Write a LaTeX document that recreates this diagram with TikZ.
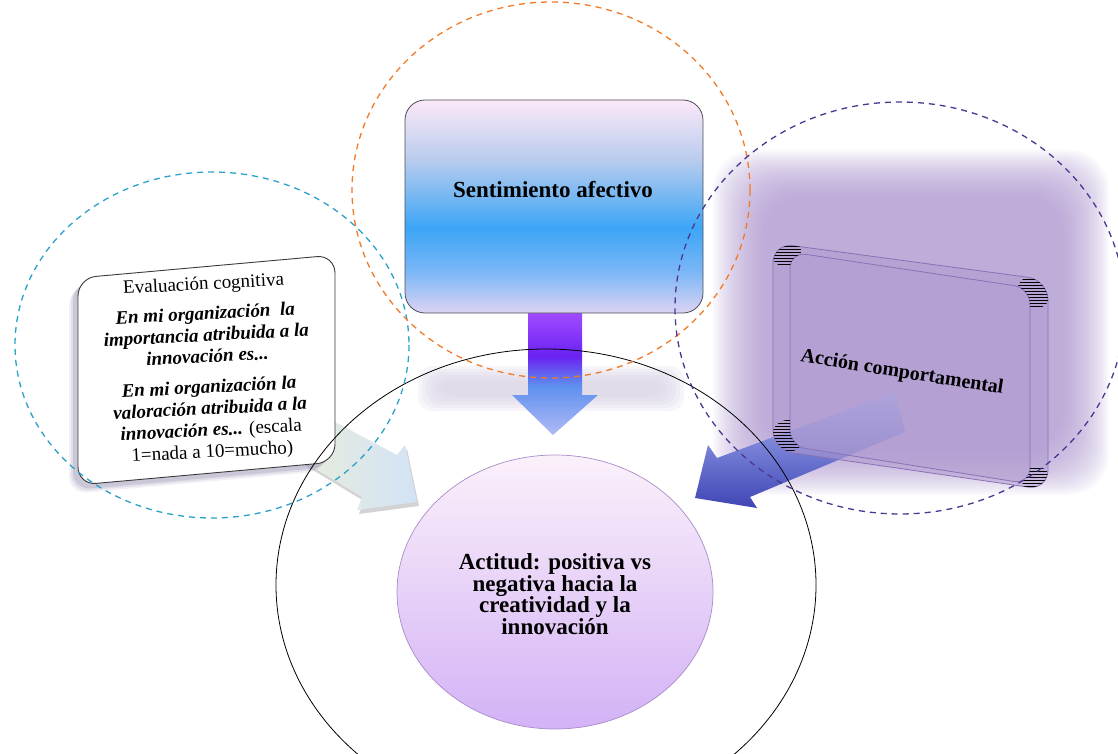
\documentclass[tikz,border=0pt]{standalone}
\usepackage{fontspec}
\setmainfont{Liberation Serif}
\usetikzlibrary{patterns}

% palette
\definecolor{hazecol}{HTML}{A890CC}
\definecolor{bandcol}{HTML}{D6CFE3}
\definecolor{ringblue}{HTML}{2AA2C9}
\definecolor{ringorange}{HTML}{F27A26}
\definecolor{ringpurple}{HTML}{4A3791}
\definecolor{boxedge}{HTML}{8A70B6}
\definecolor{boxface}{HTML}{B19CD0}
\definecolor{rarrtop}{HTML}{A9B6F4}
\definecolor{rarrbot}{HTML}{3F45B4}
\definecolor{larrL}{HTML}{EFEFD6}
\definecolor{larrR}{HTML}{D2E3F5}
\definecolor{attop}{HTML}{FBF1FA}
\definecolor{atbot}{HTML}{D3B2F6}
\definecolor{atedge}{HTML}{A88BCB}
\definecolor{shadowcol}{HTML}{8F84AA}
\definecolor{boxline}{HTML}{3A3A3A}
\definecolor{topline}{HTML}{4E4E58}
% colours of the affect box
\definecolor{afbot}{HTML}{DCD3F3}
\definecolor{afmid}{HTML}{78B6F6}
\definecolor{afblue}{HTML}{3CA5F6}
\definecolor{afpale}{HTML}{B9CCEE}
\definecolor{aftop}{HTML}{FCE8F8}
% colours of the downward arrow
\definecolor{dntop}{HTML}{A24CFF}
\definecolor{dndeep}{HTML}{6A22F2}
\definecolor{dnblue}{HTML}{5E90EF}
\definecolor{dnbot}{HTML}{B2BAF6}

\pgfdeclareverticalshading{affect}{100bp}{%
  color(0bp)=(afbot); color(25bp)=(afbot); color(35bp)=(afmid);
  color(45bp)=(afblue); color(61bp)=(afpale); color(75bp)=(aftop);
  color(100bp)=(aftop)}
\pgfdeclareverticalshading{downflow}{100bp}{%
  color(0bp)=(dnbot); color(25bp)=(dnbot); color(45bp)=(dnblue);
  color(57bp)=(dndeep); color(75bp)=(dntop); color(100bp)=(dntop)}

\tikzset{
  dashring/.style={dash pattern=on 6pt off 5pt, line width=1.3pt},
  txt/.style={text=black, inner sep=0pt},
}

\begin{document}
\begin{tikzpicture}[x=1pt,y=-1pt]
\useasboundingbox (0,0) rectangle (1118,754);
\clip (0,0) rectangle (1118,754);

% soft purple glow behind the action block
\foreach \i in {0,...,23}
  \fill[hazecol, fill opacity=0.055, rounded corners=40pt]
    ({713+2.2*\i},{150+2*\i}) rectangle ({1109-2*\i},{495-2*\i});

% faint band under the downward arrow
\foreach \i in {0,...,5}
  \fill[bandcol, fill opacity=0.2, rounded corners=14pt]
    ({418+4*\i},{366+3*\i}) rectangle ({684-4*\i},{411-3*\i});

% arrow from the action block
\shade[top color=rarrtop, bottom color=rarrbot]
  (895,392) -- (717,458) -- (708,445) -- (695,498) -- (757,508)
  -- (750,497) -- (905,432) -- cycle;

% action block (slab seen in perspective)
\filldraw[draw=boxedge, fill=boxface, fill opacity=0.55, line width=0.8pt,
  rounded corners=20pt]
  (773,243) -- (1048,280) -- (1048,490) -- (773,450) -- cycle;
\filldraw[draw=boxedge, fill=boxface, fill opacity=0.35, line width=0.8pt,
  rounded corners=16pt]
  (790,252) -- (1030,288) -- (1030,484) -- (790,446) -- cycle;
\begin{scope}
  \clip (786,252) circle (15pt) (1034,292) circle (17pt)
        (788,436) circle (16pt) (1036,480) circle (14pt);
  \fill[pattern=horizontal lines, pattern color=black, even odd rule]
    [rounded corners=20pt] (773,243) -- (1048,280) -- (1048,490) -- (773,450) -- cycle
    [rounded corners=16pt] (790,252) -- (1030,288) -- (1030,484) -- (790,446) -- cycle;
\end{scope}

% arrow from the cognitive box
\fill[gray, opacity=0.35]
  (292,402) -- (399,459) -- (407,449) -- (419,506) -- (359,514)
  -- (364,501) -- (270,444) -- cycle;
\shade[left color=larrL, right color=larrR]
  (290,398) -- (397,455) -- (405,445) -- (417,502) -- (357,510)
  -- (362,497) -- (268,440) -- cycle;

% downward arrow from the affect box
\shade[shading=downflow]
  (528,312) -- (582,312) -- (582,395) -- (598,395) -- (553,435)
  -- (512,395) -- (528,395) -- cycle;

% central attitude disc
\shade[top color=attop, bottom color=atbot, draw=atedge, line width=0.7pt]
  (555,592) ellipse [x radius=158, y radius=137];

% cognitive box with its shadow
\foreach \d/\o in {9/0.12,7/0.18,5/0.25}
  \fill[shadowcol, opacity=\o, rounded corners=18pt, shift={(-\d,\d)}]
    (78,278) -- (335,255) -- (335,462) -- (78,485) -- cycle;
\filldraw[fill=white, draw=boxline, line width=0.9pt, rounded corners=18pt]
  (78,278) -- (335,255) -- (335,462) -- (78,485) -- cycle;

% affect box
\node[shade, shading=affect, draw=topline, line width=0.8pt,
  rounded corners=20pt, minimum width=298pt, minimum height=213pt,
  inner sep=0pt] (affectbox) at (554,206.5) {};

% rings
\draw[black, line width=0.8pt] (546,585) ellipse [x radius=270, y radius=236];
\draw[ringblue, dashring] (212,345) ellipse [x radius=197, y radius=173];
\draw[ringorange, dashring] (551,190) ellipse [x radius=199, y radius=188];
\draw[ringpurple, dashring] (900,308) ellipse [x radius=225, y radius=206];

% labels
\node[txt, font=\fontsize{23}{22}\selectfont\bfseries] (affect) at (553,190)
  {Sentimiento afectivo};
\node[txt, align=center, font=\fontsize{23}{21.5}\selectfont\bfseries]
  (attitude) at (555,594)
  {Actitud: positiva vs\\negativa hacia la\\creatividad y la\\innovación};
\node[txt, rotate=-9, font=\fontsize{20}{20}\selectfont\bfseries]
  (action) at (902,373) {Acción comportamental};
\node[txt, rotate=3, align=center, font=\fontsize{19}{21.5}\selectfont]
  (eval) at (208,369)
  {Evaluación cognitiva\\[8.5pt]
   \textbf{\textit{En mi organización\ \ la}}\\
   \textbf{\textit{importancia atribuida a la}}\\
   \textbf{\textit{innovación es...}}\\[9pt]
   \textbf{\textit{En mi organización la}}\\
   \textbf{\textit{valoración atribuida a la}}\\
   \textbf{\textit{innovación es...}} (escala\\
   1=nada a 10=mucho)};
\end{tikzpicture}
\end{document}
